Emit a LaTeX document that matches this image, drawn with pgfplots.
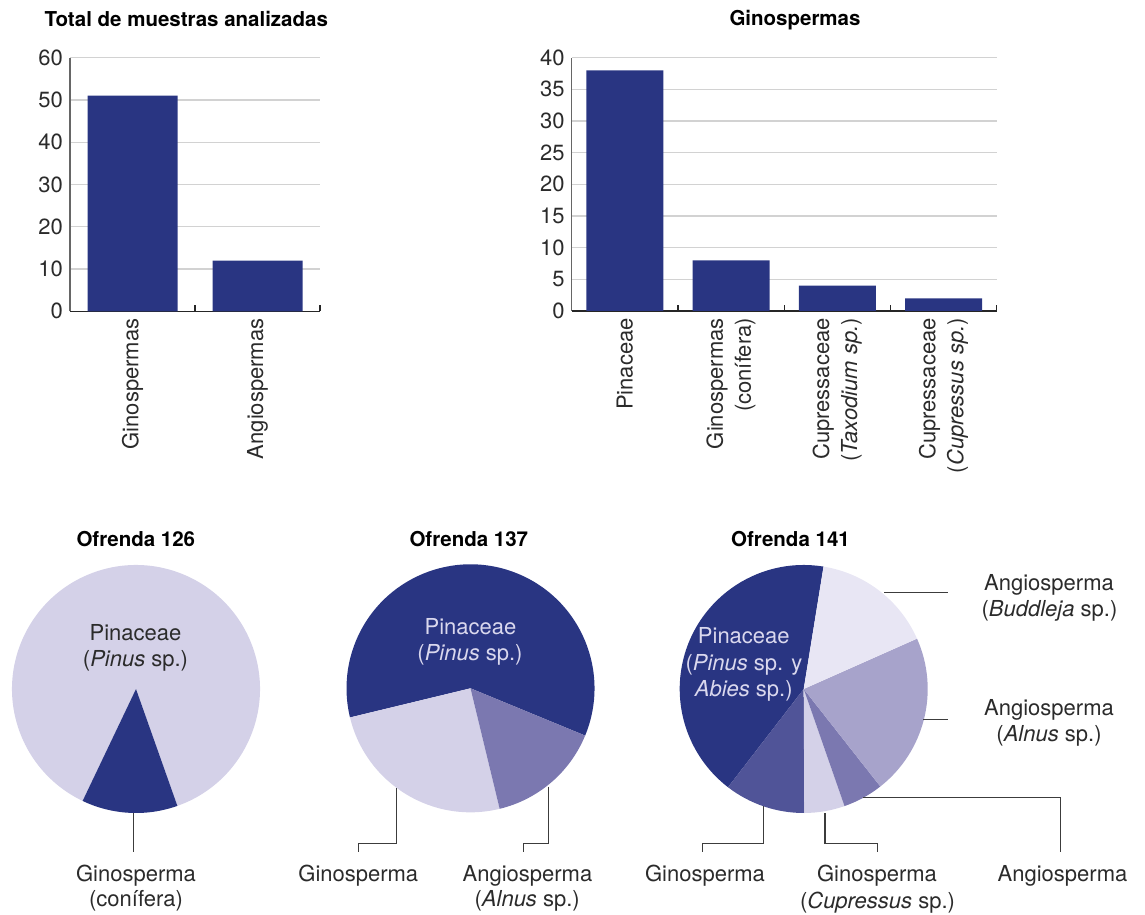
\documentclass[border=0pt]{standalone}
\usepackage{fontspec}
\setmainfont{TeX Gyre Heros}
\usepackage{pgfplots}
\pgfplotsset{compat=1.18}
\definecolor{navy}{HTML}{293582}
\definecolor{lav}{HTML}{D4D1E8}
\definecolor{medp}{HTML}{7B78B0}
\definecolor{alnus}{HTML}{A7A3CB}
\definecolor{budd}{HTML}{E8E6F4}
\definecolor{gino}{HTML}{505498}
\definecolor{txt}{HTML}{2B2B2B}
\definecolor{lbl}{HTML}{DAD8EE}
\definecolor{gridc}{HTML}{D2D2D2}
\definecolor{lead}{HTML}{3C3C3C}
\newcommand{\tf}{\fontsize{22}{28}\selectfont}
\newcommand{\hf}{\fontsize{20.5}{24}\selectfont\bfseries}
\newcommand{\pieslice}[4]{%
  \fill[#1] (axis cs:0,0) -- ++({#2}:124pt) arc[start angle={#2}, delta angle={360*#3/#4}, radius=124pt] -- cycle;}
\pgfplotsset{
 barax/.style={
  scale only axis, anchor=south west,
  axis x line*=bottom, axis y line*=left, separate axis lines,
  x axis line style={-, draw=black!85, line width=1.2pt},
  y axis line style={-, draw=black!60, line width=1.2pt},
  ymin=0,
  ymajorgrids, major grid style={draw=gridc, line width=1.1pt},
  major tick style={draw=none},
  minor x tick style={draw=black!85, line width=1.1pt},
  minor tick length=6pt, tick align=inside,
  /pgf/number format/assume math mode=true,
  yticklabel style={font=\tf, text=txt, inner sep=0pt},
  yticklabel shift=7pt,
  xticklabel style={font=\tf, text=txt, rotate=90, anchor=east, inner sep=0pt, align=right},
  xticklabel shift=7pt,
 },
 pieax/.style={
  hide axis, scale only axis, width=248pt, height=248pt,
  xmin=-1, xmax=1, ymin=-1, ymax=1, anchor=center, clip=false,
 }
}
\begin{document}
\begin{tikzpicture}
\path[use as bounding box] (0pt,0pt) rectangle (1145pt,914pt);

% Total de muestras analizadas
\begin{axis}[barax, at={(70pt,602.7pt)}, width=250pt, height=253.6pt,
  xmin=-0.5, xmax=1.5, ymax=60, ytick={0,10,...,60},
  xtick={0,1}, xticklabels={Ginospermas,Angiospermas}, minor xtick={0.5,1.5}]
\addplot[ybar, bar width=0.72, fill=navy, draw=none] coordinates {(0,51) (1,12)};
\end{axis}

% Ginospermas
\begin{axis}[barax, at={(571.7pt,603pt)}, width=425pt, height=253.3pt,
  xmin=-0.5, xmax=3.5, ymax=40, ytick={0,5,...,40},
  xtick={0,1,2,3}, minor xtick={0.5,1.5,2.5,3.5},
  xticklabels={Pinaceae,{Ginospermas\\(conífera)},{Cupressaceae\\(\textit{Taxodium sp.})},{Cupressaceae\\(\textit{Cupressus sp.})}}]
\addplot[ybar, bar width=0.725, fill=navy, draw=none] coordinates {(0,38) (1,8) (2,4) (3,2)};
\end{axis}

% Ofrenda 126
\begin{axis}[pieax, at={(136pt,225pt)}]
\pieslice{lav}{289.5}{7}{8}
\pieslice{navy}{244.5}{1}{8}
\end{axis}

% Ofrenda 137
\begin{axis}[pieax, at={(470.5pt,225.7pt)}]
\pieslice{navy}{337.6}{12}{20}
\pieslice{lav}{193.6}{5}{20}
\pieslice{medp}{283.6}{3}{20}
\end{axis}

% Ofrenda 141
\begin{axis}[pieax, at={(803.7pt,225pt)}]
\pieslice{navy}{80.8}{8}{19}
\pieslice{gino}{80.8+360*8/19}{2}{19}
\pieslice{lav}{80.8+360*10/19}{1}{19}
\pieslice{medp}{80.8+360*11/19}{1}{19}
\pieslice{alnus}{80.8+360*12/19}{4}{19}
\pieslice{budd}{80.8+360*16/19}{3}{19}
\end{axis}

% titles
\begin{scope}[every node/.style={font=\hf, anchor=base, inner sep=0pt, text=black}]
\node at (186.3pt,887.3pt) {Total de muestras analizadas};
\node at (795pt,888pt) {Ginospermas};
\node at (135.8pt,367.3pt) {Ofrenda 126};
\node at (468.8pt,368pt) {Ofrenda 137};
\node at (790.5pt,368pt) {Ofrenda 141};
\end{scope}

% labels
\begin{scope}[every node/.style={font=\tf, anchor=base, inner sep=0pt, text=txt}]
\node at (135.5pt,273.3pt) {Pinaceae};
\node at (135.5pt,247.3pt) {(\textit{Pinus} sp.)};
\node at (136pt,32.3pt) {Ginosperma};
\node at (136pt,7.3pt) {(conífera)};
\node[text=lbl] at (470.5pt,279.7pt) {Pinaceae};
\node[text=lbl] at (470pt,253.3pt) {(\textit{Pinus} sp.)};
\node at (358.3pt,32.3pt) {Ginosperma};
\node at (527.5pt,32.3pt) {Angiosperma};
\node at (527.2pt,7.3pt) {(\textit{Alnus} sp.)};
\node[text=lbl] at (743.8pt,270.7pt) {Pinaceae};
\node[text=lbl] at (744pt,244pt) {(\textit{Pinus} sp. y};
\node[text=lbl] at (743.8pt,217.3pt) {\textit{Abies} sp.)};
\node at (1049pt,324pt) {Angiosperma};
\node at (1049.5pt,297.3pt) {(\textit{Buddleja} sp.)};
\node at (1049pt,199pt) {Angiosperma};
\node at (1049pt,172.3pt) {(\textit{Alnus} sp.)};
\node at (1062.5pt,32.3pt) {Angiosperma};
\node at (705pt,32.3pt) {Ginosperma};
\node at (877pt,32.3pt) {Ginosperma};
\node at (877.5pt,6pt) {(\textit{Cupressus} sp.)};
\end{scope}

% leader lines
\begin{scope}[draw=lead, line width=1.2pt]
\draw (133.3pt,101pt) -- (133.3pt,62.3pt);
\draw (396.7pt,125.7pt) |- (358.3pt,70.7pt) -- (358.3pt,62pt);
\draw (548.3pt,127.3pt) |- (523.3pt,70.7pt) -- (523.3pt,62pt);
\draw (884pt,321.3pt) -- (948.3pt,321.3pt);
\draw (923.3pt,194.7pt) -- (948.3pt,194.7pt);
\draw (863.3pt,116.3pt) -| (1060.7pt,61.7pt);
\draw (763.3pt,108pt) |- (702.7pt,70.7pt) -- (702.7pt,61.7pt);
\draw (825pt,100.7pt) |- (877.3pt,70.7pt) -- (877.3pt,61.7pt);
\end{scope}
\end{tikzpicture}
\end{document}
